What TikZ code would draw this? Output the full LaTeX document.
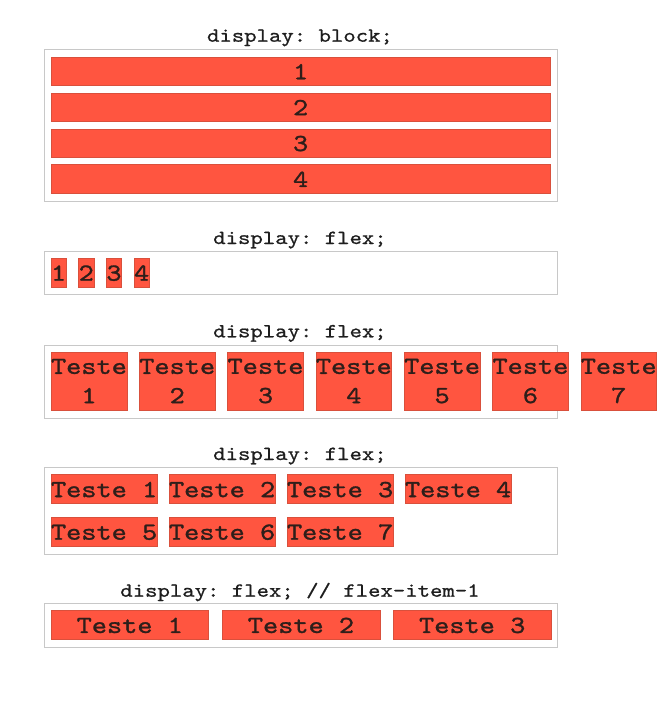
\documentclass[tikz,border=0pt]{standalone}
\usepackage{fontspec}
\newfontfamily\itemfont{lmmono10-regular.otf}[FakeStretch=1.18,FakeBold=1.2]
\newfontfamily\titlefont{lmmono10-regular.otf}[FakeStretch=1.18,FakeBold=0.8]
\definecolor{itemfill}{HTML}{FF5540}
\definecolor{itemedge}{HTML}{D9503C}
\definecolor{boxedge}{HTML}{C8C8C8}
\definecolor{itemtext}{HTML}{2E1E1A}
\definecolor{titletext}{HTML}{1E1E1E}
\begin{document}
\frenchspacing
\begin{tikzpicture}[x=1pt,y=-1pt,
  container/.style={draw=boxedge,line width=1pt,inner sep=0pt,anchor=north west},
  itembase/.style={draw=itemedge,line width=0.6pt,fill=itemfill,inner sep=0pt,anchor=north west,text=itemtext},
  item/.style={itembase,font=\itemfont\fontsize{24.5}{29.3}\selectfont,text height=16pt,text depth=0pt},
  itemtwo/.style={itembase,font=\itemfont\fontsize{24.5}{29.3}\selectfont,align=center},
  title/.style={anchor=base,text=titletext,font=\titlefont\fontsize{20}{24}\selectfont,inner sep=0pt}]
\fill[white] (0,0) rectangle (664,709);
\useasboundingbox (0,0) rectangle (664,709);

% ---- section 1: display: block ----
\node[title] (t1) at (300,41.7) {display: block;};
\node[container,minimum width=513pt,minimum height=151pt] (c1) at (43.5,49.5) {};
\foreach \i/\y in {1/56.7,2/92.6,3/128.5,4/164.4}
  \node[item,minimum width=499.3pt,minimum height=28.5pt] (b\i) at (50.7,\y) {\i};

% ---- section 2: display: flex (1 2 3 4) ----
\node[title] (t2) at (300,244) {display: flex;};
\node[container,minimum width=513pt,minimum height=43pt] (c2) at (43.5,250.5) {};
\foreach \i in {1,...,4}
  \node[item,minimum width=15pt,minimum height=28.7pt] (f\i) at ({50.7+(\i-1)*27.7},258) {\i};

% ---- section 3: display: flex (Teste 1..7 overflow) ----
\node[title] (t3) at (300,337.3) {display: flex;};
\node[container,minimum width=513pt,minimum height=73pt] (c3) at (43.5,344.5) {};
\foreach \i in {1,...,7}
  \node[itemtwo,minimum width=75pt,minimum height=58.5pt] (g\i) at ({50.7+(\i-1)*88.3},351.5) {Teste\\\i};

% ---- section 4: display: flex (wrap) ----
\node[title] (t4) at (300,460) {display: flex;};
\node[container,minimum width=513pt,minimum height=87pt] (c4) at (43.5,466.5) {};
\foreach \i in {1,...,4}
  \node[item,minimum width=104.5pt,minimum height=29pt] (w\i) at ({50.7+(\i-1)*118},474.3) {Teste \i};
\foreach \i/\k in {5/0,6/1,7/2}
  \node[item,minimum width=104.5pt,minimum height=29.3pt] (w\i) at ({50.7+\k*118},516.7) {Teste \i};

% ---- section 5: display: flex; // flex-item-1 ----
\node[title] (t5) at (300,596.7) {display: flex; // flex-item-1};
\node[container,minimum width=513pt,minimum height=44pt] (c5) at (43.5,602.5) {};
\foreach \i/\k in {1/0,2/1,3/2}
  \node[item,minimum width=157.6pt,minimum height=29.3pt] (e\i) at ({50.7+\k*171.2},610) {Teste \i};
\end{tikzpicture}
\end{document}
